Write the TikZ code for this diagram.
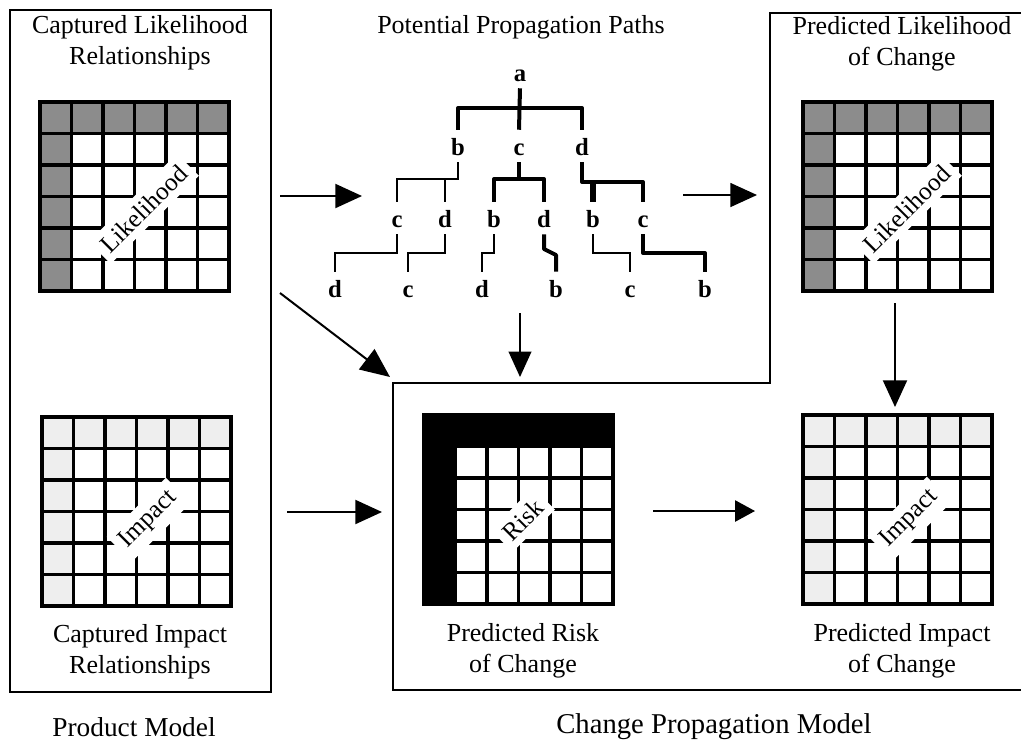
\documentclass[tikz,border=0pt]{standalone}
\usepackage{fontspec}
\setmainfont{Liberation Serif}
\usetikzlibrary{arrows.meta,calc}
\tikzset{
  frame/.style={line width=1.5pt},
  gridl/.style={line width=2.5pt},
  title/.style={font=\fontsize{19.5}{23}\selectfont, align=center, inner sep=0pt},
  lbl/.style={font=\fontsize{19}{19}\selectfont, fill=white, rotate=45, inner sep=5pt},
  lt/.style={font=\bfseries\fontsize{18.5}{18.5}\selectfont, inner sep=0pt, text height=18.75pt, text depth=5.25pt, anchor=base},
  thn/.style={line width=1.1pt},
  thk/.style={line width=3pt, line join=round},
  arr/.style={line width=1.5pt, -{Triangle[length=20pt,width=18pt]}},
}
\newcommand\mtxdraw[4]{%
  \node[inner sep=0pt, minimum size=141.75pt, anchor=north west] (#1) at (#2,#3) {};
  \fill[#4] (#2,#3) rectangle ++(189,31.5);
  \fill[#4] (#2,#3) rectangle ++(31.5,189);
  \foreach \i in {1,...,5} {
    \draw[gridl] (#2+\i*31.5,#3) -- ++(0,189);
    \draw[gridl] (#2,#3+\i*31.5) -- ++(189,0);
  }
  \draw[gridl] (#2,#3) rectangle ++(189,189);
}
\definecolor{midgray}{HTML}{8C8C8C}
\definecolor{lightgray}{HTML}{EEEEEE}
\begin{document}
\begin{tikzpicture}[x=0.75pt,y=-0.75pt]
\useasboundingbox (0,0) rectangle (1021,744);
\fill[white] (0,0) rectangle (1021,744);

% frames
\draw[frame] (10,10) rectangle (271,692);
\draw[frame] (1022,13) -- (770,13) -- (770,383) -- (393,383) -- (393,690) -- (1022,690);

% matrices
\mtxdraw{LL}{40}{102}{midgray}
\mtxdraw{LI}{42}{417}{lightgray}
\mtxdraw{RL}{803}{102}{midgray}
\mtxdraw{RI}{803}{415}{lightgray}
\mtxdraw{RK}{424}{415}{black}

\node[lbl] at ($(LL.center)+(9,12)$) {Likelihood};
\node[lbl] at ($(RL.center)+(9,12)$) {Likelihood};
\node[lbl] at ($(LI.center)+(12,8)$) {Impact};
\node[lbl] at ($(RI.center)+(12,9)$) {Impact};
\node[lbl] at ($(RK.center)+(4,10)$) {Risk};

% titles
\node[title] (t1) at (140,43) {Captured Likelihood\\Relationships};
\node[title] (t2) at (521,27) {Potential Propagation Paths};
\node[title] (t3) at (902,44) {Predicted Likelihood\\of Change};
\node[title] (t4) at (140,652) {Captured Impact\\Relationships};
\node[title] (t5) at (523,651) {Predicted Risk\\of Change};
\node[title] (t6) at (902,651) {Predicted Impact\\of Change};
\node[title, font=\fontsize{20.5}{24}\selectfont] (t7) at (134,727) {Product Model};
\node[title, font=\fontsize{21.5}{24}\selectfont] (t8) at (714,727) {Change Propagation Model};

% tree
\node[lt] (a) at (520,81) {a};
\node[lt] (b1) at (458,155) {b};
\node[lt] (c1) at (519,155) {c};
\node[lt] (d1) at (582,155) {d};
\node[lt] (c2a) at (397,227) {c};
\node[lt] (d2a) at (445,227) {d};
\node[lt] (b2b) at (494,227) {b};
\node[lt] (d2b) at (544,227) {d};
\node[lt] (b2c) at (593,227) {b};
\node[lt] (c2c) at (643,227) {c};
\node[lt] (d3a) at (335,297) {d};
\node[lt] (c3a) at (408,297) {c};
\node[lt] (d3b) at (482,297) {d};
\node[lt] (b3b) at (556,297) {b};
\node[lt] (c3c) at (630,297) {c};
\node[lt] (b3c) at (705,297) {b};
\coordinate (h1) at (0,108);
\coordinate (h2) at (0,179);
\coordinate (h2b) at (0,182);
\coordinate (h3) at (0,253);
\coordinate (k1) at (0,249);
\coordinate (k2) at (0,255);

\draw[thk] (a.south) -- (c1.north);
\draw[thk] (b1.north) |- (h1 -| d1.north) -- (d1.north);
\draw[thn] (b1.south) |- (h2 -| c2a.north) -- (c2a.north);
\draw[thn] (d2a.north) -- (d2a.north |- h2);
\draw[thk] (c1.south) -- (c1.south |- h2);
\draw[thk] (b2b.north) |- (h2 -| d2b.north) -- (d2b.north);
\draw[thk] (d1.south) |- (h2b -| c2c.north) -- (c2c.north);
\draw[line width=4.5pt] (b2c.north) -- (b2c.north |- h2b);
\draw[thn] (c2a.south) |- (h3 -| d3a.north) -- (d3a.north);
\draw[thn] (d2a.south) |- (h3 -| c3a.north) -- (c3a.north);
\draw[thn] (b2b.south) |- (h3 -| d3b.north) -- (d3b.north);
\draw[thk] (d2b.south) -- (d2b.south |- k1) -- (k2 -| b3b.north) -- (b3b.north);
\draw[thn] (b2c.south) |- (h3 -| c3c.north) -- (c3c.north);
\draw[thk] (c2c.south) |- (h3 -| b3c.north) -- (b3c.north);

% arrows
\coordinate (a1s) at (280,196); \coordinate (a1e) at (362,196);
\coordinate (a2s) at (683,195); \coordinate (a2e) at (757,195);
\coordinate (a3s) at (280,293); \coordinate (a3e) at (390,377);
\coordinate (a4s) at (520,313); \coordinate (a4e) at (520,377);
\coordinate (a5s) at (895,303); \coordinate (a5e) at (895,407);
\coordinate (a6s) at (287,512); \coordinate (a6e) at (382,512);
\coordinate (a7s) at (653,511); \coordinate (a7e) at (755,511);
\draw[arr] (a1s) -- (a1e);
\draw[arr, line width=1.1pt] (a2s) -- (a2e);
\draw[arr, -{Triangle[length=22pt,width=19pt]}] (a3s) -- (a3e);
\draw[arr, line width=1.2pt, -{Triangle[length=19pt,width=17pt]}] (a4s) -- (a4e);
\draw[arr] (a5s) -- (a5e);
\draw[arr] (a6s) -- (a6e);
\draw[arr, line width=1.2pt, -{Triangle[length=15pt,width=16pt]}] (a7s) -- (a7e);
\end{tikzpicture}
\end{document}
